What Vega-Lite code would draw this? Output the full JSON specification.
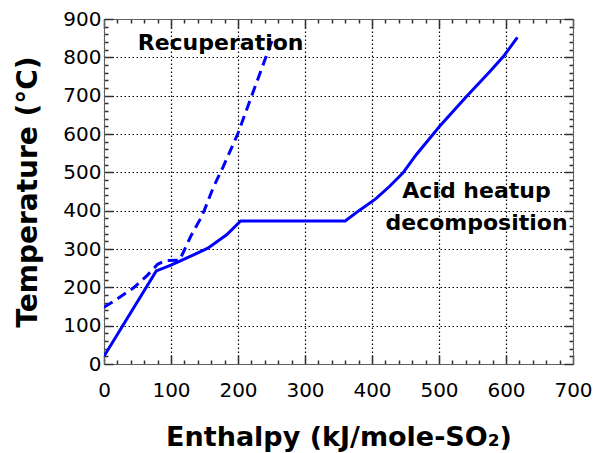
{
  "$schema": "https://vega.github.io/schema/vega-lite/v6.json",
  "autosize": {"type": "none"},
  "width": 469,
  "height": 345,
  "padding": {"left": 104, "top": 19, "right": 22, "bottom": 89},
  "background": "white",
  "config": {
    "view": {"stroke": "#606060", "strokeWidth": 1},
    "font": "DejaVu Sans",
    "axis": {
      "labelFont": "DejaVu Sans",
      "labelFontSize": 20,
      "labelColor": "black",
      "titleFont": "DejaVu Sans",
      "titleFontWeight": "bold",
      "titleFontSize": 27,
      "titleColor": "black",
      "domainColor": "#606060",
      "tickColor": "#303030",
      "tickWidth": 1.5,
      "gridColor": "black",
      "gridDash": [1.5, 2.5],
      "gridWidth": 1.2
    }
  },
  "data": {
    "values": [
      {"series": "acid", "h": 0, "t": 20},
      {"series": "acid", "h": 78, "t": 243},
      {"series": "acid", "h": 100, "t": 258},
      {"series": "acid", "h": 123, "t": 276},
      {"series": "acid", "h": 155, "t": 302},
      {"series": "acid", "h": 183, "t": 337},
      {"series": "acid", "h": 204, "t": 373},
      {"series": "acid", "h": 360, "t": 373},
      {"series": "acid", "h": 382, "t": 402},
      {"series": "acid", "h": 405, "t": 430},
      {"series": "acid", "h": 426, "t": 463},
      {"series": "acid", "h": 446, "t": 498},
      {"series": "acid", "h": 466, "t": 546},
      {"series": "acid", "h": 501, "t": 620},
      {"series": "acid", "h": 541, "t": 698},
      {"series": "acid", "h": 576, "t": 763},
      {"series": "acid", "h": 596, "t": 802},
      {"series": "acid", "h": 617, "t": 852},
      {"series": "recup", "h": 0, "t": 148},
      {"series": "recup", "h": 20, "t": 170},
      {"series": "recup", "h": 45, "t": 200},
      {"series": "recup", "h": 65, "t": 232},
      {"series": "recup", "h": 80, "t": 260},
      {"series": "recup", "h": 92, "t": 270},
      {"series": "recup", "h": 113, "t": 271},
      {"series": "recup", "h": 118, "t": 290},
      {"series": "recup", "h": 130, "t": 335},
      {"series": "recup", "h": 143, "t": 376},
      {"series": "recup", "h": 150, "t": 402},
      {"series": "recup", "h": 163, "t": 460},
      {"series": "recup", "h": 178, "t": 515},
      {"series": "recup", "h": 200, "t": 602},
      {"series": "recup", "h": 222, "t": 707},
      {"series": "recup", "h": 242, "t": 802},
      {"series": "recup", "h": 252, "t": 849}
    ]
  },
  "resolve": {"axis": {"x": "independent", "y": "independent"}},
  "layer": [
    {
      "transform": [{"filter": "datum.series === 'acid'"}],
      "mark": {"type": "line", "color": "#0000ff", "strokeWidth": 3, "clip": true},
      "encoding": {
        "x": {
          "field": "h", "type": "quantitative",
          "scale": {"domain": [0, 700], "nice": false, "zero": false},
          "axis": {
            "orient": "bottom",
            "title": "Enthalpy (kJ/mole-SO₂)",
            "values": [0,20,40,60,80,100,120,140,160,180,200,220,240,260,280,300,320,340,360,380,400,420,440,460,480,500,520,540,560,580,600,620,640,660,680,700],
            "labelExpr": "datum.value % 100 === 0 ? datum.label : ''",
            "tickSize": {"condition": {"test": "datum.value % 100 === 0", "value": -9}, "value": -4},
            "gridOpacity": {"condition": {"test": "datum.value % 100 === 0", "value": 1}, "value": 0},
            "labelPadding": 25,
            "titlePadding": 19,
            "labelFlush": false,
            "labelOverlap": false
          }
        },
        "y": {
          "field": "t", "type": "quantitative",
          "scale": {"domain": [0, 900], "nice": false, "zero": false},
          "axis": {
            "orient": "left",
            "title": "Temperature (°C)",
            "titleFontSize": 28,
            "values": [0,20,40,60,80,100,120,140,160,180,200,220,240,260,280,300,320,340,360,380,400,420,440,460,480,500,520,540,560,580,600,620,640,660,680,700,720,740,760,780,800,820,840,860,880,900],
            "labelExpr": "datum.value % 100 === 0 ? datum.label : ''",
            "tickSize": {"condition": {"test": "datum.value % 100 === 0", "value": -9}, "value": -4},
            "gridOpacity": {"condition": {"test": "datum.value % 100 === 0", "value": 1}, "value": 0},
            "labelPadding": 12,
            "titlePadding": 20,
            "labelFlush": false,
            "labelOverlap": false
          }
        }
      }
    },
    {
      "transform": [{"filter": "datum.series === 'recup'"}],
      "mark": {"type": "line", "color": "#0000ff", "strokeWidth": 3, "strokeDash": [10, 6], "clip": true},
      "encoding": {
        "x": {
          "field": "h", "type": "quantitative",
          "scale": {"domain": [0, 700], "nice": false, "zero": false},
          "axis": {
            "orient": "top",
            "title": null,
            "labels": false,
            "grid": false,
            "values": [0,20,40,60,80,100,120,140,160,180,200,220,240,260,280,300,320,340,360,380,400,420,440,460,480,500,520,540,560,580,600,620,640,660,680,700],
            "tickSize": {"condition": {"test": "datum.value % 100 === 0", "value": -9}, "value": -4}
          }
        },
        "y": {
          "field": "t", "type": "quantitative",
          "scale": {"domain": [0, 900], "nice": false, "zero": false},
          "axis": {
            "orient": "right",
            "title": null,
            "labels": false,
            "grid": false,
            "values": [0,20,40,60,80,100,120,140,160,180,200,220,240,260,280,300,320,340,360,380,400,420,440,460,480,500,520,540,560,580,600,620,640,660,680,700,720,740,760,780,800,820,840,860,880,900],
            "tickSize": {"condition": {"test": "datum.value % 100 === 0", "value": -9}, "value": -4}
          }
        }
      }
    },
    {
      "data": {
        "values": [
          {"label": "Recuperation", "h": 174, "t": 820},
          {"label": "Acid heatup", "h": 556, "t": 433},
          {"label": "decomposition", "h": 556, "t": 350}
        ]
      },
      "mark": {"type": "text", "font": "DejaVu Sans", "fontWeight": "bold", "fontSize": 22, "align": "center", "baseline": "alphabetic", "color": "black"},
      "encoding": {
        "x": {"field": "h", "type": "quantitative", "scale": {"domain": [0, 700], "nice": false, "zero": false}, "axis": null},
        "y": {"field": "t", "type": "quantitative", "scale": {"domain": [0, 900], "nice": false, "zero": false}, "axis": null},
        "text": {"field": "label"}
      }
    }
  ]
}
